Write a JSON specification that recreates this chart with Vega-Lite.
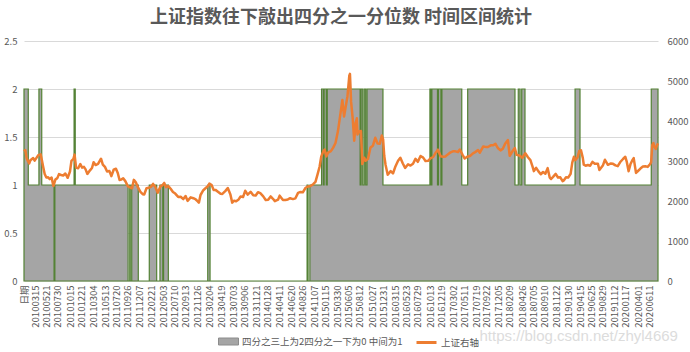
{
  "$schema": "https://vega.github.io/schema/vega-lite/v6.json",
  "width": 634,
  "height": 240,
  "autosize": "none",
  "padding": {"left": 24, "top": 41, "right": 32, "bottom": 71},
  "title": {"text": "上证指数往下敲出四分之一分位数 时间区间统计", "fontSize": 18, "color": "#595959", "fontWeight": "bold", "anchor": "middle", "offset": 9, "font": "Noto Sans CJK SC"},
  "config": {
    "view": {"stroke": null},
    "font": "Noto Sans CJK SC",
    "axis": {"labelColor": "#595959", "labelFont": "Noto Sans CJK SC", "domain": false, "ticks": false},
    "axisX": {"labelOverlap": false, "labelFlush": false, "labelBound": false}
  },
  "datasets": {
    "state": [
      {"d": "2010-01-04", "v": 2, "s": "四分之三上为2四分之一下为0 中间为1"},
      {"d": "2010-01-30", "v": 1, "s": "四分之三上为2四分之一下为0 中间为1"},
      {"d": "2010-04-05", "v": 2, "s": "四分之三上为2四分之一下为0 中间为1"},
      {"d": "2010-04-22", "v": 1, "s": "四分之三上为2四分之一下为0 中间为1"},
      {"d": "2010-07-06", "v": 0, "s": "四分之三上为2四分之一下为0 中间为1"},
      {"d": "2010-07-11", "v": 1, "s": "四分之三上为2四分之一下为0 中间为1"},
      {"d": "2010-11-05", "v": 2, "s": "四分之三上为2四分之一下为0 中间为1"},
      {"d": "2010-11-12", "v": 1, "s": "四分之三上为2四分之一下为0 中间为1"},
      {"d": "2011-09-30", "v": 0, "s": "四分之三上为2四分之一下为0 中间为1"},
      {"d": "2011-10-10", "v": 1, "s": "四分之三上为2四分之一下为0 中间为1"},
      {"d": "2011-10-13", "v": 0, "s": "四分之三上为2四分之一下为0 中间为1"},
      {"d": "2011-10-22", "v": 1, "s": "四分之三上为2四分之一下为0 中间为1"},
      {"d": "2011-12-01", "v": 0, "s": "四分之三上为2四分之一下为0 中间为1"},
      {"d": "2012-02-06", "v": 1, "s": "四分之三上为2四分之一下为0 中间为1"},
      {"d": "2012-03-22", "v": 0, "s": "四分之三上为2四分之一下为0 中间为1"},
      {"d": "2012-04-11", "v": 1, "s": "四分之三上为2四分之一下为0 中间为1"},
      {"d": "2012-04-28", "v": 0, "s": "四分之三上为2四分之一下为0 中间为1"},
      {"d": "2012-05-03", "v": 1, "s": "四分之三上为2四分之一下为0 中间为1"},
      {"d": "2012-06-01", "v": 0, "s": "四分之三上为2四分之一下为0 中间为1"},
      {"d": "2013-01-27", "v": 1, "s": "四分之三上为2四分之一下为0 中间为1"},
      {"d": "2013-02-10", "v": 0, "s": "四分之三上为2四分之一下为0 中间为1"},
      {"d": "2014-09-24", "v": 1, "s": "四分之三上为2四分之一下为0 中间为1"},
      {"d": "2014-09-30", "v": 0, "s": "四分之三上为2四分之一下为0 中间为1"},
      {"d": "2014-10-11", "v": 1, "s": "四分之三上为2四分之一下为0 中间为1"},
      {"d": "2014-12-21", "v": 2, "s": "四分之三上为2四分之一下为0 中间为1"},
      {"d": "2015-01-01", "v": 1, "s": "四分之三上为2四分之一下为0 中间为1"},
      {"d": "2015-01-06", "v": 2, "s": "四分之三上为2四分之一下为0 中间为1"},
      {"d": "2015-01-19", "v": 1, "s": "四分之三上为2四分之一下为0 中间为1"},
      {"d": "2015-01-25", "v": 2, "s": "四分之三上为2四分之一下为0 中间为1"},
      {"d": "2015-08-13", "v": 1, "s": "四分之三上为2四分之一下为0 中间为1"},
      {"d": "2015-08-19", "v": 2, "s": "四分之三上为2四分之一下为0 中间为1"},
      {"d": "2015-08-29", "v": 1, "s": "四分之三上为2四分之一下为0 中间为1"},
      {"d": "2015-09-07", "v": 2, "s": "四分之三上为2四分之一下为0 中间为1"},
      {"d": "2015-09-16", "v": 1, "s": "四分之三上为2四分之一下为0 中间为1"},
      {"d": "2015-09-24", "v": 2, "s": "四分之三上为2四分之一下为0 中间为1"},
      {"d": "2015-12-30", "v": 1, "s": "四分之三上为2四分之一下为0 中间为1"},
      {"d": "2016-10-11", "v": 2, "s": "四分之三上为2四分之一下为0 中间为1"},
      {"d": "2016-10-17", "v": 1, "s": "四分之三上为2四分之一下为0 中间为1"},
      {"d": "2016-10-23", "v": 2, "s": "四分之三上为2四分之一下为0 中间为1"},
      {"d": "2016-11-26", "v": 1, "s": "四分之三上为2四分之一下为0 中间为1"},
      {"d": "2016-12-02", "v": 2, "s": "四分之三上为2四分之一下为0 中间为1"},
      {"d": "2016-12-17", "v": 1, "s": "四分之三上为2四分之一下为0 中间为1"},
      {"d": "2016-12-23", "v": 2, "s": "四分之三上为2四分之一下为0 中间为1"},
      {"d": "2017-04-23", "v": 1, "s": "四分之三上为2四分之一下为0 中间为1"},
      {"d": "2017-05-29", "v": 2, "s": "四分之三上为2四分之一下为0 中间为1"},
      {"d": "2018-03-13", "v": 1, "s": "四分之三上为2四分之一下为0 中间为1"},
      {"d": "2018-04-02", "v": 2, "s": "四分之三上为2四分之一下为0 中间为1"},
      {"d": "2018-04-13", "v": 1, "s": "四分之三上为2四分之一下为0 中间为1"},
      {"d": "2018-04-23", "v": 2, "s": "四分之三上为2四分之一下为0 中间为1"},
      {"d": "2018-05-13", "v": 1, "s": "四分之三上为2四分之一下为0 中间为1"},
      {"d": "2019-03-14", "v": 2, "s": "四分之三上为2四分之一下为0 中间为1"},
      {"d": "2019-04-13", "v": 1, "s": "四分之三上为2四分之一下为0 中间为1"},
      {"d": "2020-06-20", "v": 2, "s": "四分之三上为2四分之一下为0 中间为1"},
      {"d": "2020-07-31", "v": 2, "s": "四分之三上为2四分之一下为0 中间为1"}
    ],
    "sse": [
      {"d": "2010-01-04", "p": 3243}, {"d": "2010-01-12", "p": 3273}, {"d": "2010-01-20", "p": 3075}, {"d": "2010-01-29", "p": 2990},
      {"d": "2010-02-05", "p": 2939}, {"d": "2010-02-12", "p": 3018}, {"d": "2010-03-01", "p": 3073}, {"d": "2010-03-10", "p": 3010},
      {"d": "2010-03-19", "p": 3067}, {"d": "2010-04-01", "p": 3148}, {"d": "2010-04-15", "p": 3166}, {"d": "2010-04-23", "p": 3018},
      {"d": "2010-04-30", "p": 2870}, {"d": "2010-05-10", "p": 2674}, {"d": "2010-05-20", "p": 2588}, {"d": "2010-05-31", "p": 2592},
      {"d": "2010-06-10", "p": 2548}, {"d": "2010-06-21", "p": 2588}, {"d": "2010-07-02", "p": 2373}, {"d": "2010-07-14", "p": 2537},
      {"d": "2010-07-26", "p": 2572}, {"d": "2010-08-05", "p": 2672}, {"d": "2010-08-18", "p": 2650}, {"d": "2010-08-31", "p": 2638},
      {"d": "2010-09-13", "p": 2688}, {"d": "2010-09-27", "p": 2580}, {"d": "2010-10-11", "p": 2738}, {"d": "2010-10-20", "p": 3004},
      {"d": "2010-11-01", "p": 3052}, {"d": "2010-11-08", "p": 3159}, {"d": "2010-11-17", "p": 2838}, {"d": "2010-11-30", "p": 2820},
      {"d": "2010-12-13", "p": 2925}, {"d": "2010-12-24", "p": 2834}, {"d": "2011-01-04", "p": 2853}, {"d": "2011-01-14", "p": 2791},
      {"d": "2011-01-25", "p": 2677}, {"d": "2011-02-10", "p": 2767}, {"d": "2011-02-22", "p": 2825}, {"d": "2011-03-04", "p": 2970},
      {"d": "2011-03-16", "p": 2898}, {"d": "2011-03-31", "p": 2928}, {"d": "2011-04-18", "p": 3057}, {"d": "2011-04-29", "p": 2911},
      {"d": "2011-05-12", "p": 2853}, {"d": "2011-05-25", "p": 2737}, {"d": "2011-06-08", "p": 2750}, {"d": "2011-06-20", "p": 2621},
      {"d": "2011-07-04", "p": 2782}, {"d": "2011-07-18", "p": 2806}, {"d": "2011-07-29", "p": 2701}, {"d": "2011-08-09", "p": 2526},
      {"d": "2011-08-19", "p": 2534}, {"d": "2011-08-31", "p": 2567}, {"d": "2011-09-13", "p": 2497}, {"d": "2011-09-29", "p": 2365},
      {"d": "2011-10-24", "p": 2317}, {"d": "2011-11-04", "p": 2528}, {"d": "2011-11-16", "p": 2468}, {"d": "2011-11-30", "p": 2333},
      {"d": "2011-12-14", "p": 2228}, {"d": "2011-12-28", "p": 2170}, {"d": "2012-01-06", "p": 2163}, {"d": "2012-01-20", "p": 2319},
      {"d": "2012-02-03", "p": 2330}, {"d": "2012-02-17", "p": 2357}, {"d": "2012-02-29", "p": 2428}, {"d": "2012-03-14", "p": 2347},
      {"d": "2012-03-28", "p": 2207}, {"d": "2012-04-13", "p": 2359}, {"d": "2012-04-27", "p": 2397}, {"d": "2012-05-07", "p": 2452},
      {"d": "2012-05-18", "p": 2344}, {"d": "2012-06-01", "p": 2373}, {"d": "2012-06-15", "p": 2307}, {"d": "2012-06-29", "p": 2225},
      {"d": "2012-07-13", "p": 2186}, {"d": "2012-07-31", "p": 2103}, {"d": "2012-08-15", "p": 2105}, {"d": "2012-08-31", "p": 2047},
      {"d": "2012-09-14", "p": 2123}, {"d": "2012-09-26", "p": 2004}, {"d": "2012-10-15", "p": 2092}, {"d": "2012-10-31", "p": 2069},
      {"d": "2012-11-15", "p": 2038}, {"d": "2012-11-27", "p": 1991}, {"d": "2012-12-04", "p": 1959}, {"d": "2012-12-14", "p": 2150},
      {"d": "2012-12-31", "p": 2269}, {"d": "2013-01-15", "p": 2325}, {"d": "2013-01-31", "p": 2385}, {"d": "2013-02-06", "p": 2434},
      {"d": "2013-02-20", "p": 2397}, {"d": "2013-03-04", "p": 2273}, {"d": "2013-03-15", "p": 2278}, {"d": "2013-04-01", "p": 2227},
      {"d": "2013-04-15", "p": 2181}, {"d": "2013-04-26", "p": 2177}, {"d": "2013-05-15", "p": 2253}, {"d": "2013-05-29", "p": 2325},
      {"d": "2013-06-14", "p": 2162}, {"d": "2013-06-25", "p": 1959}, {"d": "2013-07-05", "p": 2007}, {"d": "2013-07-19", "p": 1992},
      {"d": "2013-08-01", "p": 2029}, {"d": "2013-08-15", "p": 2113}, {"d": "2013-08-30", "p": 2098}, {"d": "2013-09-12", "p": 2255},
      {"d": "2013-09-27", "p": 2160}, {"d": "2013-10-15", "p": 2230}, {"d": "2013-10-31", "p": 2141}, {"d": "2013-11-15", "p": 2136},
      {"d": "2013-11-29", "p": 2220}, {"d": "2013-12-13", "p": 2197}, {"d": "2013-12-31", "p": 2116}, {"d": "2014-01-15", "p": 2026},
      {"d": "2014-01-30", "p": 2033}, {"d": "2014-02-14", "p": 2115}, {"d": "2014-02-28", "p": 2056}, {"d": "2014-03-12", "p": 1997},
      {"d": "2014-03-31", "p": 2033}, {"d": "2014-04-10", "p": 2134}, {"d": "2014-04-30", "p": 2026}, {"d": "2014-05-15", "p": 2025},
      {"d": "2014-05-30", "p": 2039}, {"d": "2014-06-13", "p": 2070}, {"d": "2014-06-30", "p": 2048}, {"d": "2014-07-15", "p": 2067},
      {"d": "2014-07-31", "p": 2202}, {"d": "2014-08-15", "p": 2226}, {"d": "2014-08-29", "p": 2217}, {"d": "2014-09-15", "p": 2331},
      {"d": "2014-09-30", "p": 2364}, {"d": "2014-10-15", "p": 2374}, {"d": "2014-10-31", "p": 2420}, {"d": "2014-11-14", "p": 2478},
      {"d": "2014-11-28", "p": 2683}, {"d": "2014-12-09", "p": 2856}, {"d": "2014-12-19", "p": 3108}, {"d": "2014-12-31", "p": 3235},
      {"d": "2015-01-09", "p": 3285}, {"d": "2015-01-19", "p": 3116}, {"d": "2015-01-30", "p": 3210}, {"d": "2015-02-16", "p": 3247},
      {"d": "2015-03-02", "p": 3336}, {"d": "2015-03-16", "p": 3449}, {"d": "2015-03-31", "p": 3748}, {"d": "2015-04-13", "p": 4121},
      {"d": "2015-04-27", "p": 4527}, {"d": "2015-05-07", "p": 4112}, {"d": "2015-05-15", "p": 4308}, {"d": "2015-05-28", "p": 4620},
      {"d": "2015-06-08", "p": 5131}, {"d": "2015-06-12", "p": 5178}, {"d": "2015-06-19", "p": 4478}, {"d": "2015-06-29", "p": 4053},
      {"d": "2015-07-08", "p": 3507}, {"d": "2015-07-17", "p": 3957}, {"d": "2015-07-24", "p": 4070}, {"d": "2015-07-28", "p": 3663},
      {"d": "2015-08-07", "p": 3744}, {"d": "2015-08-18", "p": 3749}, {"d": "2015-08-26", "p": 2927}, {"d": "2015-09-07", "p": 3080},
      {"d": "2015-09-15", "p": 3005}, {"d": "2015-09-30", "p": 3053}, {"d": "2015-10-15", "p": 3338}, {"d": "2015-10-30", "p": 3383},
      {"d": "2015-11-13", "p": 3580}, {"d": "2015-11-27", "p": 3436}, {"d": "2015-12-11", "p": 3434}, {"d": "2015-12-23", "p": 3636},
      {"d": "2015-12-31", "p": 3539}, {"d": "2016-01-07", "p": 3125}, {"d": "2016-01-15", "p": 2901}, {"d": "2016-01-28", "p": 2656},
      {"d": "2016-02-15", "p": 2746}, {"d": "2016-02-29", "p": 2688}, {"d": "2016-03-15", "p": 2864}, {"d": "2016-03-31", "p": 3004},
      {"d": "2016-04-14", "p": 3082}, {"d": "2016-04-29", "p": 2938}, {"d": "2016-05-13", "p": 2827}, {"d": "2016-05-31", "p": 2917},
      {"d": "2016-06-15", "p": 2887}, {"d": "2016-06-30", "p": 2930}, {"d": "2016-07-15", "p": 3054}, {"d": "2016-07-29", "p": 2979},
      {"d": "2016-08-15", "p": 3125}, {"d": "2016-08-31", "p": 3085}, {"d": "2016-09-14", "p": 3002}, {"d": "2016-09-30", "p": 3005},
      {"d": "2016-10-14", "p": 3064}, {"d": "2016-10-31", "p": 3100}, {"d": "2016-11-15", "p": 3207}, {"d": "2016-11-29", "p": 3283},
      {"d": "2016-12-15", "p": 3118}, {"d": "2016-12-30", "p": 3104}, {"d": "2017-01-13", "p": 3113}, {"d": "2017-01-26", "p": 3159},
      {"d": "2017-02-14", "p": 3217}, {"d": "2017-02-28", "p": 3242}, {"d": "2017-03-15", "p": 3241}, {"d": "2017-03-31", "p": 3223},
      {"d": "2017-04-11", "p": 3288}, {"d": "2017-04-28", "p": 3155}, {"d": "2017-05-11", "p": 3062}, {"d": "2017-05-26", "p": 3107},
      {"d": "2017-06-15", "p": 3132}, {"d": "2017-06-30", "p": 3192}, {"d": "2017-07-14", "p": 3222}, {"d": "2017-07-31", "p": 3273},
      {"d": "2017-08-11", "p": 3208}, {"d": "2017-08-31", "p": 3361}, {"d": "2017-09-15", "p": 3353}, {"d": "2017-09-29", "p": 3349},
      {"d": "2017-10-16", "p": 3391}, {"d": "2017-10-31", "p": 3393}, {"d": "2017-11-14", "p": 3430}, {"d": "2017-11-30", "p": 3317},
      {"d": "2017-12-15", "p": 3266}, {"d": "2017-12-29", "p": 3307}, {"d": "2018-01-12", "p": 3429}, {"d": "2018-01-29", "p": 3523},
      {"d": "2018-02-09", "p": 3129}, {"d": "2018-02-28", "p": 3259}, {"d": "2018-03-12", "p": 3326}, {"d": "2018-03-23", "p": 3153},
      {"d": "2018-04-09", "p": 3138}, {"d": "2018-04-27", "p": 3082}, {"d": "2018-05-15", "p": 3192}, {"d": "2018-05-31", "p": 3095},
      {"d": "2018-06-15", "p": 3021}, {"d": "2018-06-29", "p": 2847}, {"d": "2018-07-06", "p": 2747}, {"d": "2018-07-20", "p": 2829},
      {"d": "2018-08-03", "p": 2740}, {"d": "2018-08-17", "p": 2669}, {"d": "2018-08-31", "p": 2725}, {"d": "2018-09-14", "p": 2681},
      {"d": "2018-09-28", "p": 2821}, {"d": "2018-10-11", "p": 2583}, {"d": "2018-10-19", "p": 2550}, {"d": "2018-10-31", "p": 2603},
      {"d": "2018-11-16", "p": 2679}, {"d": "2018-11-30", "p": 2588}, {"d": "2018-12-14", "p": 2593}, {"d": "2018-12-28", "p": 2494},
      {"d": "2019-01-04", "p": 2514}, {"d": "2019-01-18", "p": 2596}, {"d": "2019-01-31", "p": 2585}, {"d": "2019-02-15", "p": 2682},
      {"d": "2019-02-25", "p": 2961}, {"d": "2019-03-07", "p": 3106}, {"d": "2019-03-15", "p": 3022}, {"d": "2019-03-29", "p": 3091},
      {"d": "2019-04-08", "p": 3245}, {"d": "2019-04-19", "p": 3270}, {"d": "2019-04-30", "p": 3078}, {"d": "2019-05-06", "p": 2906},
      {"d": "2019-05-17", "p": 2882}, {"d": "2019-05-31", "p": 2899}, {"d": "2019-06-14", "p": 2882}, {"d": "2019-06-28", "p": 2979},
      {"d": "2019-07-12", "p": 2930}, {"d": "2019-07-31", "p": 2932}, {"d": "2019-08-09", "p": 2775}, {"d": "2019-08-30", "p": 2886},
      {"d": "2019-09-12", "p": 3031}, {"d": "2019-09-30", "p": 2905}, {"d": "2019-10-18", "p": 2938}, {"d": "2019-10-31", "p": 2929},
      {"d": "2019-11-15", "p": 2891}, {"d": "2019-11-29", "p": 2871}, {"d": "2019-12-13", "p": 2968}, {"d": "2019-12-31", "p": 3050},
      {"d": "2020-01-14", "p": 3106}, {"d": "2020-01-23", "p": 2976}, {"d": "2020-02-03", "p": 2746}, {"d": "2020-02-14", "p": 2917},
      {"d": "2020-02-25", "p": 3013}, {"d": "2020-03-05", "p": 3071}, {"d": "2020-03-19", "p": 2702}, {"d": "2020-03-31", "p": 2750},
      {"d": "2020-04-15", "p": 2811}, {"d": "2020-04-30", "p": 2860}, {"d": "2020-05-15", "p": 2868}, {"d": "2020-05-29", "p": 2852},
      {"d": "2020-06-12", "p": 2919}, {"d": "2020-06-19", "p": 2967}, {"d": "2020-06-26", "p": 3400}, {"d": "2020-07-03", "p": 3450},
      {"d": "2020-07-10", "p": 3350}, {"d": "2020-07-17", "p": 3300}, {"d": "2020-07-24", "p": 3380}, {"d": "2020-07-31", "p": 3440}
    ]
  },
  "encoding": {
    "x": {
      "field": "d", "type": "temporal",
      "scale": {"domain": [{"year": 2010, "month": 1, "date": 4}, {"year": 2020, "month": 7, "date": 31}]},
      "axis": {
        "values": [
          {"year": 2010, "month": 1, "date": 4},
          {"year": 2010, "month": 3, "date": 15}, {"year": 2010, "month": 5, "date": 21}, {"year": 2010, "month": 7, "date": 30}, {"year": 2010, "month": 10, "date": 15}, {"year": 2010, "month": 12, "date": 21},
          {"year": 2011, "month": 3, "date": 4}, {"year": 2011, "month": 5, "date": 13}, {"year": 2011, "month": 7, "date": 20}, {"year": 2011, "month": 9, "date": 26}, {"year": 2011, "month": 12, "date": 7},
          {"year": 2012, "month": 2, "date": 21}, {"year": 2012, "month": 5, "date": 3}, {"year": 2012, "month": 7, "date": 10}, {"year": 2012, "month": 9, "date": 13}, {"year": 2012, "month": 11, "date": 26},
          {"year": 2013, "month": 2, "date": 4}, {"year": 2013, "month": 4, "date": 19}, {"year": 2013, "month": 7, "date": 3}, {"year": 2013, "month": 9, "date": 6}, {"year": 2013, "month": 11, "date": 21},
          {"year": 2014, "month": 1, "date": 28}, {"year": 2014, "month": 4, "date": 11}, {"year": 2014, "month": 6, "date": 20}, {"year": 2014, "month": 8, "date": 26}, {"year": 2014, "month": 11, "date": 7},
          {"year": 2015, "month": 1, "date": 15}, {"year": 2015, "month": 3, "date": 30}, {"year": 2015, "month": 6, "date": 5}, {"year": 2015, "month": 8, "date": 12}, {"year": 2015, "month": 10, "date": 27}, {"year": 2015, "month": 12, "date": 31},
          {"year": 2016, "month": 3, "date": 15}, {"year": 2016, "month": 5, "date": 23}, {"year": 2016, "month": 7, "date": 29}, {"year": 2016, "month": 10, "date": 13}, {"year": 2016, "month": 12, "date": 19},
          {"year": 2017, "month": 3, "date": 2}, {"year": 2017, "month": 5, "date": 11}, {"year": 2017, "month": 7, "date": 19}, {"year": 2017, "month": 9, "date": 22}, {"year": 2017, "month": 12, "date": 5},
          {"year": 2018, "month": 2, "date": 9}, {"year": 2018, "month": 4, "date": 26}, {"year": 2018, "month": 7, "date": 5}, {"year": 2018, "month": 9, "date": 10}, {"year": 2018, "month": 11, "date": 22},
          {"year": 2019, "month": 1, "date": 30}, {"year": 2019, "month": 4, "date": 15}, {"year": 2019, "month": 6, "date": 25}, {"year": 2019, "month": 8, "date": 29}, {"year": 2019, "month": 11, "date": 12},
          {"year": 2020, "month": 1, "date": 17}, {"year": 2020, "month": 4, "date": 1}, {"year": 2020, "month": 6, "date": 11}
        ],
        "labelExpr": "year(datum.value) == 2010 && month(datum.value) == 0 ? '日期' : timeFormat(datum.value, '%Y%m%d')",
        "labelAngle": -90,
        "labelFontSize": 9.5,
        "labelPadding": 4,
        "grid": false,
        "labelOverlap": false,
        "labelFlush": false,
        "labelBound": false,
        "title": "https://blog.csdn.net/zhyl4669",
        "titleFont": "Liberation Sans",
        "titleFontSize": 15,
        "titleFontWeight": "normal",
        "titleColor": "#dcdcdc",
        "titleAlign": "left",
        "titleAnchor": null,
        "titleBaseline": "alphabetic",
        "titleX": 455,
        "titleY": 59
      }
    }
  },
  "layer": [
    {
      "data": {"name": "state"},
      "mark": {"type": "area", "interpolate": "step-after", "stroke": "#548235", "strokeWidth": 1.2, "opacity": 1},
      "encoding": {
        "y": {
          "field": "v", "type": "quantitative",
          "scale": {"domain": [0, 2.5], "nice": false},
          "axis": {"values": [0, 0.5, 1, 1.5, 2, 2.5], "format": ".1~f", "title": null, "labelFontSize": 9.5, "labelPadding": 7, "grid": true, "gridColor": "#D9D9D9", "gridWidth": 1, "orient": "left"}
        },
        "fill": {
          "field": "s", "type": "nominal",
          "scale": {"range": ["#A5A5A5"]},
          "legend": {"orient": "none", "legendX": 194, "legendY": 290, "title": null, "symbolType": "M-1,-0.35L1,-0.35L1,0.35L-1,0.35Z", "symbolSize": 400, "symbolStrokeColor": "#8c8c8c", "symbolStrokeWidth": 1, "labelFontSize": 9.5, "labelColor": "#595959", "labelOffset": 3, "labelLimit": 400, "padding": 0}
        }
      }
    },
    {
      "data": {"name": "sse"},
      "mark": {"type": "line", "strokeWidth": 2.5, "strokeJoin": "round"},
      "encoding": {
        "y": {
          "field": "p", "type": "quantitative",
          "scale": {"domain": [0, 6000], "nice": false},
          "axis": {"values": [0, 1000, 2000, 3000, 4000, 5000, 6000], "format": "d", "title": null, "orient": "right", "labelFontSize": 9.5, "labelPadding": 9, "grid": false}
        },
        "stroke": {
          "datum": "上证右轴", "type": "nominal",
          "scale": {"range": ["#ED7D31"]},
          "legend": {"orient": "none", "legendX": 391, "legendY": 290, "title": null, "symbolType": "stroke", "symbolSize": 400, "symbolStrokeWidth": 3, "labelFontSize": 9.5, "labelColor": "#595959", "labelOffset": 3, "labelLimit": 300, "padding": 0}
        }
      }
    }
  ],
  "resolve": {"scale": {"y": "independent", "fill": "independent", "stroke": "independent"}, "axis": {"y": "independent"}}
}
